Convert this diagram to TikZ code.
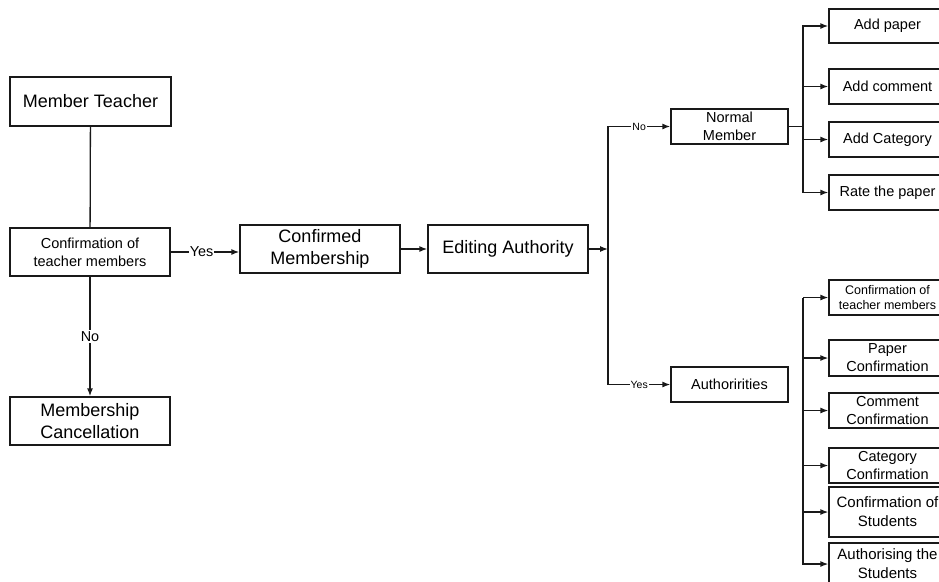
\documentclass[tikz,border=0pt]{standalone}
\usepackage{fontspec}
\setmainfont{Liberation Sans}
\usetikzlibrary{arrows.meta}

\tikzset{
  box/.style={draw=black!90, line width=1.3pt, inner sep=0pt, align=center},
  bigtext/.style={font=\fontsize{18}{22}\selectfont},
  midtext/.style={font=\fontsize{14.5}{18}\selectfont},
  smalltext/.style={font=\fontsize{12.5}{15}\selectfont},
  leftbox/.style={box, minimum width=160pt, minimum height=48pt},
  sidebox/.style={box, midtext, minimum width=117pt, minimum height=35pt},
  link/.style={draw=black!90, line width=1.3pt},
  flow/.style={link, -{Latex[length=8pt,width=6pt]}},
  tag/.style={fill=white, inner sep=1pt},
  bigtag/.style={tag, font=\fontsize{14.4}{16}\selectfont},
  tinytag/.style={tag, font=\fontsize{10.5}{12}\selectfont},
}

\begin{document}
\begin{tikzpicture}[x=1pt, y=-1pt]
  \useasboundingbox (0,0) rectangle (939,581);
  \clip (0,0) rectangle (939,581);

  % membership flow on the left
  \node[leftbox, bigtext, minimum width=161pt, minimum height=49pt] (mt) at (90.5,101.5) {Member Teacher};
  \node[leftbox, midtext] (cf) at (90,252) {Confirmation of\\teacher members};
  \node[leftbox, bigtext] (mc) at (90,421) {Membership\\Cancellation};
  \node[leftbox, bigtext] (cm) at (320,249) {Confirmed\\Membership};
  \node[leftbox, bigtext] (ea) at (508,249) {Editing Authority};

  % member kinds
  \node[sidebox] (nm) at (729.5,126.5) {Normal\\Member};
  \node[sidebox] (au) at (729.5,384.5) {Authoririties};

  % normal member actions
  \node[sidebox, minimum height=34pt] (ap) at (887.5,26) {Add paper};
  \node[sidebox] (ac) at (887.5,86.5) {Add comment};
  \node[sidebox] (ag) at (887.5,139.5) {Add Category};
  \node[sidebox] (rp) at (887.5,192.5) {Rate the paper};

  % authority actions
  \node[sidebox, smalltext] (ct) at (887.5,297.5) {Confirmation of\\teacher members};
  \node[sidebox, minimum height=36pt] (pc) at (887.5,358) {Paper\\Confirmation};
  \node[sidebox] (cc) at (887.5,410.5) {Comment\\Confirmation};
  \node[sidebox] (gc) at (887.5,465.5) {Category\\Confirmation};
  \node[sidebox, font=\fontsize{15}{19}\selectfont, minimum height=50pt] (cs) at (887.5,512) {Confirmation of\\Students};
  \node[sidebox, font=\fontsize{15}{19}\selectfont, minimum height=42pt] (as) at (887.5,564) {Authorising the\\Students};

  % connectors on the left
  \draw[link] (mt) -- (cf);
  \draw[flow] (cf) -- node[bigtag] {No} (mc);
  \draw[flow] (cf.east) -- node[bigtag, pos=0.45] {Yes} (cm.west |- cf.east);
  \draw[flow] (cm) -- (ea);

  % split by member kind
  \coordinate (et) at (608,249);
  \draw[flow] (ea.east) -- (et);
  \draw[flow] (et) |- node[pos=0.75, tinytag] {No} (nm.west);
  \draw[flow] (et) |- node[pos=0.75, tinytag] {Yes} (au.west);

  % upper trunk
  \coordinate (ut) at (803,126.5);
  \draw[link] (nm.east) -- (ut);
  \draw[flow] (ut) |- (ap.west);
  \draw[flow] (ut) |- (ac.west);
  \draw[flow] (ut) |- (ag.west);
  \draw[flow] (ut) |- (rp.west);

  % lower trunk
  \coordinate (lt) at (803,297.5);
  \draw[flow] (lt) -- (ct.west);
  \draw[flow] (lt) |- (pc.west);
  \draw[flow] (lt) |- (cc.west);
  \draw[flow] (lt) |- (gc.west);
  \draw[flow] (lt) |- (cs.west);
  \draw[flow] (lt) |- (as.west);
\end{tikzpicture}
\end{document}
